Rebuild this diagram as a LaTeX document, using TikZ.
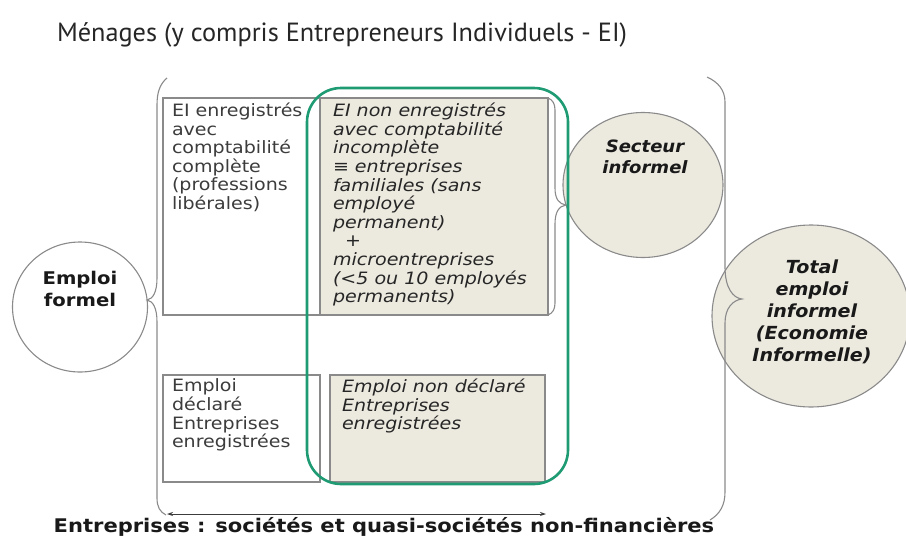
\documentclass[tikz,border=0pt]{standalone}
\usepackage{fontspec}
\setmainfont{DejaVu Sans}[FakeStretch=1.12]
\newfontfamily\titrefont{PT Sans}
\newfontfamily\bullefont{DejaVu Sans}[FakeStretch=1.06]
\usepackage{tikz}
\usetikzlibrary{arrows.meta, positioning, shapes.geometric}
\definecolor{cadre}{HTML}{8A8A8A}
\definecolor{beige}{HTML}{ECE9DF}
\definecolor{vert}{HTML}{1F9B74}
\definecolor{encre}{HTML}{3C3C3C}

\begin{document}
\begin{tikzpicture}[x=1pt,y=-1pt,>={Stealth[length=6pt,width=4pt]},
        every node/.style={inner sep=0pt,outer sep=0pt},
        boite/.style={draw=cadre,line width=1.1pt,anchor=north west},
        formel/.style={boite,fill=white},
        informel/.style={boite,fill=beige},
        texte/.style={anchor=north west,align=left,text=encre,font=\fontsize{17}{18.6}\selectfont},
        texteit/.style={texte,text=black!85,font=\fontsize{17}{18.6}\selectfont\itshape},
        bulle/.style={ellipse,draw=cadre,line width=1.1pt,fill=beige},
        titrebulle/.style={align=center,text=black!90,font=\fontsize{18}{22}\bullefont\bfseries\itshape},
        accolade/.style={draw=cadre,line width=1.1pt},
        zone/.style={draw=vert,line width=2.6pt,rounded corners=34pt}]

        \useasboundingbox (0,0) rectangle (906,536);

        \node[anchor=base west,text=black!85,font=\fontsize{26.3}{28}\titrefont] (menages) at (57,41) {Ménages (y compris Entrepreneurs Individuels - EI)};

        \node[bulle,fill=white,minimum width=135pt,minimum height=130pt] (ef) at (80,307) {};
        \node[titrebulle,font=\fontsize{17.5}{22}\selectfont\bfseries] (tef) at (80,289) {Emploi\\formel};
        \node[bulle,minimum width=160pt,minimum height=145pt] (si) at (643,185) {};
        \node[titrebulle,font=\fontsize{17}{21}\bullefont\bfseries\itshape] (tsi) at (645,157) {Secteur\\informel};
        \node[bulle,minimum width=198pt,minimum height=182pt] (tei) at (811,316) {};
        \node[titrebulle] (ttei) at (812,312) {Total\\emploi\\informel\\(Economie\\Informelle)};

        \node[formel,minimum width=157pt,minimum height=217pt] (eir) at (163,98) {};
        \node[informel,minimum width=228pt,minimum height=217pt] (einr) [right=0pt of eir] {};
        \node[formel,minimum width=157pt,minimum height=107pt] (ed) at (163,375) {};
        \node[informel,minimum width=215pt,minimum height=107pt] (end) [right=10pt of ed] {};

        \node[texte] (teir) at ([shift={(9,5)}]eir.north west) {EI enregistrés\\avec\\comptabilité\\complète\\(professions\\libérales)};
        \node[texteit] (teinr) at ([shift={(13,5)}]einr.north west) {EI non enregistrés\\avec comptabilité\\incomplète\\≡ entreprises\\familiales (sans\\employé\\permanent)\\\ \ +\\microentreprises\\(<5 ou 10 employés\\permanents)};
        \node[texte] (ted) at ([shift={(9,4)}]ed.north west) {Emploi\\déclaré\\Entreprises\\enregistrées};
        \node[texteit] (tend) at ([shift={(12,4)}]end.north west) {Emploi non déclaré\\Entreprises\\enregistrées};

        \draw[accolade] (167,78) .. controls (160,84) and (157,92) .. (157,105) -- (157,278)
            .. controls (157,292) and (153,299) .. (147,300) .. controls (153,301) and (157,308) .. (157,322)
            -- (157,498) .. controls (157,507) and (160,512) .. (166,515);
        \draw[accolade] (707,77) .. controls (718,82) and (725,90) .. (725,102) -- (725,267)
            .. controls (725,288) and (733,298) .. (742,299) .. controls (733,300) and (725,308) .. (725,323)
            -- (725,492) .. controls (725,505) and (720,514) .. (710,520);
        \draw[accolade] (548,98) .. controls (553,100) and (555,104) .. (555,110) -- (555,188)
            .. controls (555,199) and (559,204) .. (566,205) .. controls (559,206) and (555,212) .. (555,224)
            -- (555,303) .. controls (555,309) and (553,313) .. (548,315);

        \draw[zone] (307,88) rectangle (568,484);

        \coordinate (ga) at (167,514);
        \coordinate (dr) at (546,514);
        \draw[<->,encre,line width=0.9pt] (ga) -- (dr);
        \node[anchor=base,text=black!90,font=\fontsize{18.8}{20}\selectfont\bfseries] (entr) at (384,532) {Entreprises : sociétés et quasi-sociétés non-financières};
    \end{tikzpicture}
\end{document}
